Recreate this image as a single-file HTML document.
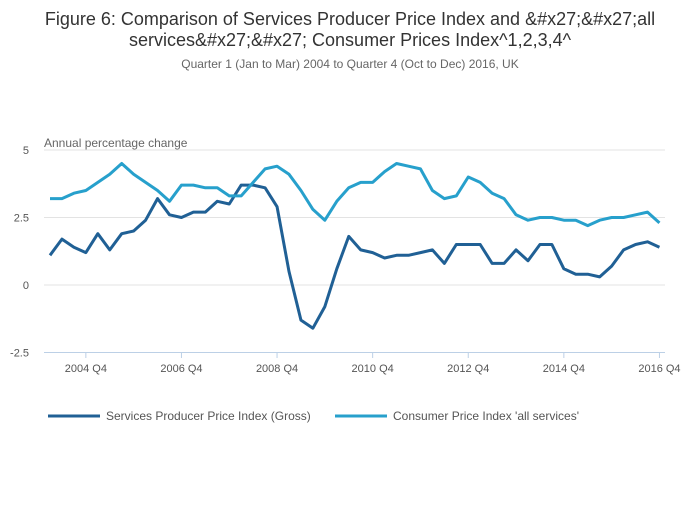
<!DOCTYPE html>
<html><head><meta charset="utf-8"><style>
body{margin:0;width:700px;height:502px;background:#fff;font-family:"Liberation Sans",sans-serif;overflow:hidden}
</style></head><body>
<svg width="700" height="502" id="chart">
<text x="350" y="25" text-anchor="middle" font-size="18" fill="#333">Figure 6: Comparison of Services Producer Price Index and &amp;#x27;&amp;#x27;all</text>
<text x="350" y="46" text-anchor="middle" font-size="18" fill="#333">services&amp;#x27;&amp;#x27; Consumer Prices Index^1,2,3,4^</text>
<text x="350" y="68" text-anchor="middle" font-size="12" fill="#666">Quarter 1 (Jan to Mar) 2004 to Quarter 4 (Oct to Dec) 2016, UK</text>
<text x="44" y="147" font-size="12" fill="#666">Annual percentage change</text>
<g id="grid"></g><g id="series"></g>
<g>
<line x1="48" y1="416" x2="100" y2="416" stroke="#206095" stroke-width="3"/>
<text x="106" y="420" font-size="12" fill="#555">Services Producer Price Index (Gross)</text>
<line x1="335" y1="416" x2="387" y2="416" stroke="#27a0cc" stroke-width="3"/>
<text x="393" y="420" font-size="12" fill="#555">Consumer Price Index 'all services'</text>
</g>
</svg>
<script>
const sppi=[1.1,1.7,1.4,1.2,1.9,1.3,1.9,2.0,2.4,3.2,2.6,2.5,2.7,2.7,3.1,3.0,3.7,3.7,3.6,2.9,0.5,-1.3,-1.6,-0.8,0.6,1.8,1.3,1.2,1.0,1.1,1.1,1.2,1.3,0.8,1.5,1.5,1.5,0.8,0.8,1.3,0.9,1.5,1.5,0.6,0.4,0.4,0.3,0.7,1.3,1.5,1.6,1.4];
const cpi=[3.2,3.2,3.4,3.5,3.8,4.1,4.5,4.1,3.8,3.5,3.1,3.7,3.7,3.6,3.6,3.3,3.3,3.8,4.3,4.4,4.1,3.5,2.8,2.4,3.1,3.6,3.8,3.8,4.2,4.5,4.4,4.3,3.5,3.2,3.3,4.0,3.8,3.4,3.2,2.6,2.4,2.5,2.5,2.4,2.4,2.2,2.4,2.5,2.5,2.6,2.7,2.3];
const yTicks=[5,2.5,0,-2.5];
const yTickLabels=["5","2.5","0","-2.5"];
const xTickIdx=[3,11,19,27,35,43,51];
const xTickLabels=["2004 Q4","2006 Q4","2008 Q4","2010 Q4","2012 Q4","2014 Q4","2016 Q4"];
const NS="http://www.w3.org/2000/svg";
const X=i=>50+i*11.95;
const Y=v=>285-v*27;
const grid=document.getElementById('grid'),ser=document.getElementById('series');
function mk(tag,attrs,parent){const e=document.createElementNS(NS,tag);for(const k in attrs)e.setAttribute(k,attrs[k]);parent.appendChild(e);return e;}
yTicks.forEach((v,i)=>{
  const l=mk('line',{x1:44,x2:665,y1:Y(v),y2:Y(v),stroke:v===-2.5?'#bcd0e6':'#e3e3e3','stroke-width':1},grid);
  
  
  const t=mk('text',{x:29,y:Y(v)+4,'font-size':11,fill:'#555','text-anchor':'end'},grid);
  t.textContent=yTickLabels[i];
  
  
});
xTickIdx.forEach((idx,i)=>{
  const l=mk('line',{x1:X(idx),x2:X(idx),y1:352,y2:358,stroke:'#bcd0e6'},grid);
  
  
  const t=mk('text',{x:X(idx),y:372,'font-size':11,fill:'#555','text-anchor':'middle'},grid);
  t.textContent=xTickLabels[i];
  
  
});
function line(data,color,name){
  const p=mk('polyline',{points:data.map((v,i)=>X(i)+','+Y(v)).join(' '),fill:'none',stroke:color,'stroke-width':3,'stroke-linejoin':'round'},ser);
  
  
}
line(sppi,'#206095','sppi-line');
line(cpi,'#27a0cc','cpi-line');
</script>
</body></html>
